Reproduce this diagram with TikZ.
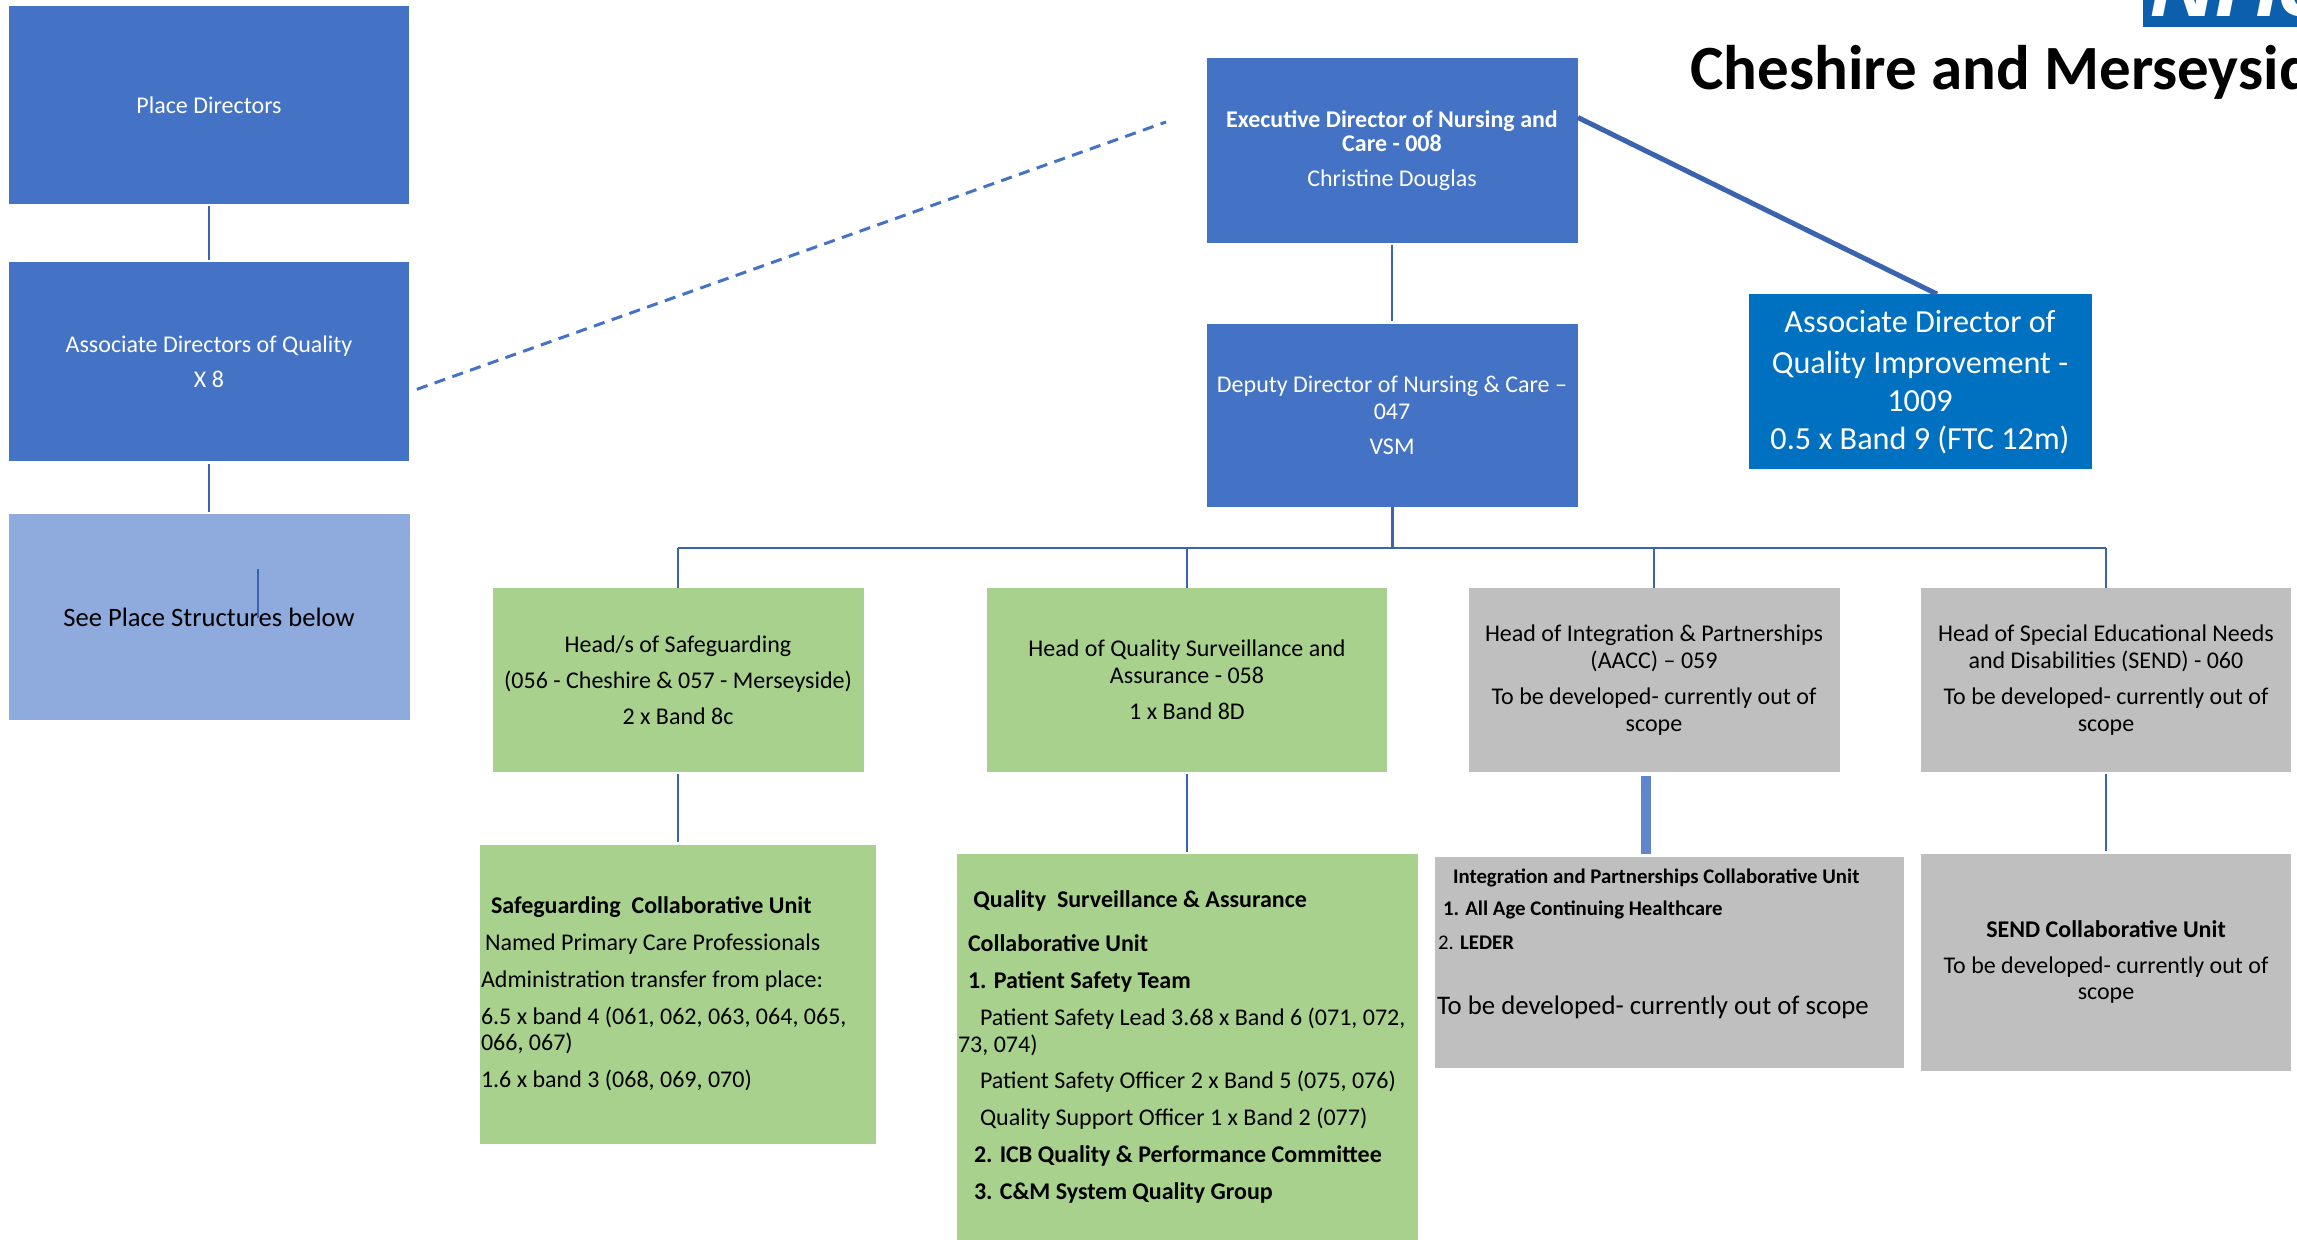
\documentclass[tikz,border=0pt]{standalone}
\usepackage{fontspec}
\setmainfont{Carlito}
\newfontfamily\logofont{Liberation Sans}
\usetikzlibrary{positioning,calc}
\definecolor{chartblue}{HTML}{4472C4}
\definecolor{linkblue}{HTML}{3B64B0}
\definecolor{paleblue}{HTML}{8FAADC}
\definecolor{qiblue}{HTML}{0070C0}
\definecolor{nhsblue}{HTML}{0B5FAD}
\definecolor{chartgreen}{HTML}{A9D18E}
\definecolor{chartgrey}{HTML}{BFBFBF}
\tikzset{
  boxsize/.style 2 args={minimum width=#1*.5pt,minimum height=#2*.5pt},
  orgbox/.style={rectangle,inner sep=0pt,align=flush center,font=\fontsize{12}{13.4}\selectfont},
  bluebox/.style={orgbox,fill=chartblue,text=white},
  greenbox/.style={orgbox,fill=chartgreen,text=black},
  greybox/.style={orgbox,fill=chartgrey,text=black},
  conn/.style={draw=linkblue,line width=1.1pt},
}
\begin{document}
\begin{tikzpicture}[x=.5pt,y=-.5pt]
\useasboundingbox (0,0) rectangle (2297,1240);
\clip (0,0) rectangle (2297,1240);

% left column
\node [bluebox,boxsize={400}{198}] at (209,105) (place) {Place Directors};
\node [bluebox,boxsize={400}{199}] at (209,362) (assoc) {Associate Directors of Quality\\[4pt]X 8};
\node [orgbox,fill=paleblue,boxsize={401}{205},font=\fontsize{13.3}{15}\selectfont] at (209,617) (seeplace) {See Place Structures below};

% top of the tree
\node [bluebox,boxsize={371}{185}] at (1392,150.5) (exec) {\textbf{Executive Director of Nursing and}\\[-1pt]\textbf{Care - 008}\\[4pt]Christine Douglas};
\node [bluebox,boxsize={371}{183},text width=180pt] at (1392,415.5) (deputy) {Deputy Director of Nursing \& Care --\\047\\[4pt]VSM};
\node [orgbox,fill=qiblue,text=white,boxsize={343}{175},text width=170pt,font=\fontsize{16.1}{19}\selectfont] at (1920,382) (adqi) {\vspace*{1.5pt}Associate Director of\\Quality Improvement -\\1009\\0.5 x Band 9 (FTC 12m)};

% heads
\node [greenbox,boxsize={371}{183}] at (678,680) (headsafe) {Head/s of Safeguarding\\[4.5pt](056 - Cheshire \& 057 - Merseyside)\\[4.5pt]2 x Band 8c};
\node [greenbox,boxsize={400}{183}] at (1187,680) (headqual) {Head of Quality Surveillance and\\Assurance - 058\\[4.5pt]1 x Band 8D};
\node [greybox,boxsize={371}{183}] at (1654,680) (headint) {Head of Integration \& Partnerships\\(AACC) -- 059\\[4.5pt]To be developed- currently out of\\scope};
\node [greybox,boxsize={370}{183}] at (2106,680) (headsend) {Head of Special Educational Needs\\and Disabilities (SEND) - 060\\[4.5pt]To be developed- currently out of\\scope};

% units
\node [greenbox,boxsize={396}{299},text width=197pt,align=flush left] at (678,994) (unitsafe) {
\hspace*{5pt}\textbf{Safeguarding\ \ Collaborative Unit}\\[5pt]
\hspace*{2pt}Named Primary Care Professionals\\[5pt]
Administration transfer from place:\\[5pt]
6.5 x band 4 (061, 062, 063, 064, 065,\\066, 067)\\[5pt]
1.6 x band 3 (068, 069, 070)};
\node [greenbox,boxsize={461}{386},text width=229pt,align=flush left] at (1187,1047) (unitqual) {\vspace*{3.6pt}
\hspace*{5pt}\textbf{Quality\ \ Surveillance \& Assurance}\\[5pt]
\hspace*{5pt}\textbf{Collaborative Unit}\\[5pt]
\hspace*{5pt}\textbf{1. Patient Safety Team}\\[5pt]
\hspace*{11pt}Patient Safety Lead 3.68 x Band 6 (071, 072,\\
73, 074)\\[5pt]
\hspace*{11pt}Patient Safety Officer 2 x Band 5 (075, 076)\\[5pt]
\hspace*{11pt}Quality Support Officer 1 x Band 2 (077)\\[5pt]
\hspace*{8pt}\textbf{2. ICB Quality \& Performance Committee}\\[5pt]
\hspace*{8pt}\textbf{3. C\&M System Quality Group}};
\node [greybox,boxsize={469}{211},text width=232pt,align=flush left] at (1669,962) (unitint) {
{\fontsize{10.4}{12.4}\selectfont\hspace*{8pt}\textbf{Integration and Partnerships Collaborative Unit}\\[3.6pt]
\hspace*{3pt}\textbf{1. All Age Continuing Healthcare}\\[3.6pt]
\hspace*{.5pt}2. \textbf{LEDER}}\\[19pt]
{\fontsize{13.4}{15}\selectfont To be developed- currently out of scope}\\[7pt]\mbox{}};
\node [greybox,boxsize={370}{217}] at (2106,962) (unitsend) {\textbf{SEND Collaborative Unit}\\[4.5pt]To be developed- currently out of\\scope};

% logo
\node [anchor=north west,inner sep=0pt,fill=nhsblue,minimum width=90pt,minimum height=13.5pt] at (2143,0) (nhsbox) {};
\node [anchor=base west,inner sep=0pt,text=white,font=\logofont\bfseries\itshape\fontsize{45}{45}\selectfont] at (2150,17) (nhsname) {NHS};
\node [anchor=base west,inner sep=0pt,font=\bfseries\fontsize{31.5}{36}\selectfont] at (1690,90) (icbname) {Cheshire and Merseyside};

% connectors
\draw [conn,shorten <=1pt,shorten >=1pt] (place) -- (assoc);
\draw [conn,shorten <=1pt,shorten >=1pt] (assoc) -- (seeplace);
\draw [conn,shorten <=1pt,shorten >=1.5pt] (exec) -- (deputy);
\draw [conn,line width=2.5pt] ([yshift=16.5pt]exec.east) -- ([xshift=8.5pt]adqi.north);
\coordinate (dashend) at (1166,122);
\draw [conn,draw=chartblue,line width=1.5pt,dash pattern=on 5.6pt off 3.8pt,shorten <=4pt] ([yshift=-15pt]assoc.east) -- (dashend);
\coordinate (tickup) at (258,569);
\coordinate (tickdown) at (258,618);
\draw [conn] (tickup) -- (tickdown);

\coordinate (bus) at (1392,548);
\draw [conn,line width=1.5pt] (deputy.south) -- (bus);
\draw [conn] (headsafe.north |- bus) -- (headsend.north |- bus);
\foreach \hd in {headsafe,headqual,headint,headsend}
  \draw [conn] (\hd.north |- bus) -- (\hd.north);
\draw [conn,shorten <=1pt,shorten >=1pt] (headsafe) -- (unitsafe);
\draw [conn,shorten <=1pt,shorten >=1pt] (headqual) -- (unitqual);
\draw [conn,shorten <=1pt,shorten >=1pt] (headsend) -- (unitsend);
\draw [conn,line width=5pt,draw=chartblue!85!white,shorten <=2pt,shorten >=1pt] ([xshift=-4pt]headint.south) -- ([xshift=-4pt]headint.south |- unitint.north);
\end{tikzpicture}
\end{document}
